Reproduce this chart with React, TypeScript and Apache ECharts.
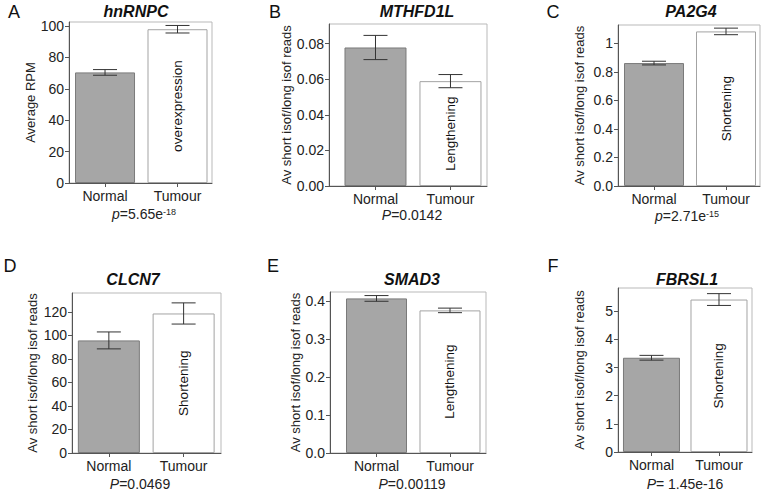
import React, { useEffect, useRef } from 'react';
import * as echarts from 'echarts';

// ---------- data ----------
const categories = ['Normal', 'Tumour'];
const genes = ['hnRNPC', 'MTHFD1L', 'PA2G4', 'CLCN7', 'SMAD3', 'FBRSL1'];
const panelLetters = ['A', 'B', 'C', 'D', 'E', 'F'];
const changeLabels = ['overexpression', 'Lengthening', 'Shortening', 'Shortening', 'Lengthening', 'Shortening'];
const yAxisNames = [
  'Average RPM',
  'Av short isof/long isof reads',
  'Av short isof/long isof reads',
  'Av short isof/long isof reads',
  'Av short isof/long isof reads',
  'Av short isof/long isof reads',
];
const pSymbols = ['p', 'P', 'p', 'P', 'P', 'P'];
const pMain = ['=5.65e', '=0.0142', '=2.71e', '=0.0469', '=0.00119', '= 1.45e-16'];
const pExp = ['-18', '', '-15', '', '', ''];

const hnRNPCMean = [70.4, 97.9];
const hnRNPCErr = [1.8, 2.4];
const MTHFD1LMean = [0.0778, 0.0589];
const MTHFD1LErr = [0.0068, 0.0037];
const PA2G4Mean = [0.862, 1.084];
const PA2G4Err = [0.013, 0.023];
const CLCN7Mean = [95.7, 118.6];
const CLCN7Err = [7.2, 9.0];
const SMAD3Mean = [0.4068, 0.3753];
const SMAD3Err = [0.0075, 0.006];
const FBRSL1Mean = [3.35, 5.42];
const FBRSL1Err = [0.085, 0.21];

const hnRNPCTicks = [0, 20, 40, 60, 80, 100];
const hnRNPCTickLabels = ['0', '20', '40', '60', '80', '100'];
const MTHFD1LTicks = [0, 0.02, 0.04, 0.06, 0.08];
const MTHFD1LTickLabels = ['0.00', '0.02', '0.04', '0.06', '0.08'];
const PA2G4Ticks = [0, 0.2, 0.4, 0.6, 0.8, 1];
const PA2G4TickLabels = ['0.0', '0.2', '0.4', '0.6', '0.8', '1'];
const CLCN7Ticks = [0, 20, 40, 60, 80, 100, 120];
const CLCN7TickLabels = ['0', '20', '40', '60', '80', '100', '120'];
const SMAD3Ticks = [0, 0.1, 0.2, 0.3, 0.4];
const SMAD3TickLabels = ['0.0', '0.1', '0.2', '0.3', '0.4'];
const FBRSL1Ticks = [0, 1, 2, 3, 4, 5];
const FBRSL1TickLabels = ['0', '1', '2', '3', '4', '5'];

const yMaxes = [102.5, 0.091, 1.129, 136, 0.4237, 5.83];

const means = [hnRNPCMean, MTHFD1LMean, PA2G4Mean, CLCN7Mean, SMAD3Mean, FBRSL1Mean];
const errs = [hnRNPCErr, MTHFD1LErr, PA2G4Err, CLCN7Err, SMAD3Err, FBRSL1Err];
const ticks = [hnRNPCTicks, MTHFD1LTicks, PA2G4Ticks, CLCN7Ticks, SMAD3Ticks, FBRSL1Ticks];
const tickLabels = [hnRNPCTickLabels, MTHFD1LTickLabels, PA2G4TickLabels, CLCN7TickLabels, SMAD3TickLabels, FBRSL1TickLabels];

// ---------- layout ----------
const layout = [
  { grid: { left: 69, top: 22, width: 143, height: 161 }, xMin: -0.497, xMax: 1.476, nameGap: 31, barWidth: 60, title: [136, 11], letter: [14, 12], p: [144, 214] },
  { grid: { left: 329, top: 24, width: 158, height: 162 }, xMin: -0.62, xMax: 1.487, nameGap: 27, barWidth: 62, title: [417, 11], letter: [275, 12], p: [412, 215] },
  { grid: { left: 618, top: 25, width: 142, height: 161 }, xMin: -0.5, xMax: 1.472, nameGap: 32, barWidth: 60, title: [691, 11], letter: [553, 12], p: [687, 216] },
  { grid: { left: 72, top: 293, width: 149, height: 160 }, xMin: -0.493, xMax: 1.5, nameGap: 33, barWidth: 62, title: [133, 279], letter: [10, 266], p: [140, 484] },
  { grid: { left: 330, top: 292, width: 156, height: 161 }, xMin: -0.633, xMax: 1.49, nameGap: 28, barWidth: 61, title: [412, 279], letter: [273, 266], p: [412, 484] },
  { grid: { left: 618, top: 288, width: 134, height: 164 }, xMin: -0.496, xMax: 1.489, nameGap: 32, barWidth: 57, title: [687, 279], letter: [553, 266], p: [685, 484] },
];

const FONT = 'Liberation Sans, Arial, sans-serif';

function buildOption() {
  const grids: any[] = [];
  const xAxes: any[] = [];
  const yAxes: any[] = [];
  const series: any[] = [];
  const graphics: any[] = [];

  genes.forEach((gene, i) => {
    const L = layout[i];
    grids.push({ ...L.grid, show: true, borderColor: '#b9b9b9', borderWidth: 1, backgroundColor: 'transparent', containLabel: false });
    xAxes.push({
      type: 'value', gridIndex: i, min: L.xMin, max: L.xMax,
      axisLine: { show: true, onZero: false, lineStyle: { color: '#555', width: 1 } },
      axisTick: { show: true, length: 4, customValues: [0, 1], lineStyle: { color: '#555' } },
      axisLabel: {
        show: true, customValues: [0, 1], margin: 6, fontSize: 14, lineHeight: 14, color: '#222', fontFamily: FONT,
        formatter: (v: number) => categories[Math.round(v)] ?? '',
      },
      splitLine: { show: false },
    });
    const tv = ticks[i];
    const tl = tickLabels[i];
    yAxes.push({
      type: 'value', gridIndex: i, min: 0, max: yMaxes[i],
      name: yAxisNames[i], nameLocation: 'middle', nameRotate: 90, nameGap: L.nameGap,
      nameTextStyle: { fontSize: 13, color: '#222', fontFamily: FONT },
      axisLine: { show: true, onZero: false, lineStyle: { color: '#555', width: 1 } },
      axisTick: { show: true, length: 4, customValues: tv, lineStyle: { color: '#555' } },
      axisLabel: {
        show: true, customValues: tv, margin: 5, fontSize: 14, color: '#222', fontFamily: FONT,
        formatter: (v: number) => {
          const k = tv.findIndex((t) => Math.abs(t - v) < 1e-9);
          return k >= 0 ? tl[k] : '';
        },
      },
      splitLine: { show: false },
    });
    const m = means[i];
    const e = errs[i];
    series.push({
      type: 'bar', xAxisIndex: i, yAxisIndex: i, barWidth: L.barWidth, z: 2,
      data: [
        { value: [0, m[0]], itemStyle: { color: '#a6a6a6', borderColor: '#7a7a7a', borderWidth: 1 } },
        {
          value: [1, m[1]], itemStyle: { color: '#ffffff', borderColor: '#a3a3a3', borderWidth: 1 },
          label: { show: true, position: 'inside', rotate: 90, formatter: changeLabels[i], fontSize: 13.5, color: '#111', fontFamily: FONT },
        },
      ],
    });
    series.push({
      type: 'custom', xAxisIndex: i, yAxisIndex: i, z: 4,
      encode: { x: 0, y: [1, 2] },
      data: [0, 1].map((k) => [k, m[k] - e[k], m[k] + e[k]]),
      renderItem: (params: any, api: any) => {
        const x = api.value(0);
        const lo = api.coord([x, api.value(1)]);
        const hi = api.coord([x, api.value(2)]);
        const hw = 12;
        const style = { stroke: '#333', lineWidth: 1 };
        return {
          type: 'group',
          children: [
            { type: 'line', shape: { x1: lo[0], y1: lo[1], x2: hi[0], y2: hi[1] }, style },
            { type: 'line', shape: { x1: lo[0] - hw, y1: lo[1], x2: lo[0] + hw, y2: lo[1] }, style },
            { type: 'line', shape: { x1: hi[0] - hw, y1: hi[1], x2: hi[0] + hw, y2: hi[1] }, style },
          ],
        };
      },
    });

    graphics.push({
      type: 'text', x: L.title[0], y: L.title[1],
      style: { text: gene, fontSize: 16, fontWeight: 'bold', fontStyle: 'italic', fontFamily: FONT, fill: '#111', align: 'center', verticalAlign: 'middle' },
    });
    graphics.push({
      type: 'text', x: L.letter[0], y: L.letter[1],
      style: { text: panelLetters[i], fontSize: 18, fontFamily: FONT, fill: '#111', align: 'center', verticalAlign: 'middle' },
    });
    const txt = '{i|' + pSymbols[i] + '}{b|' + pMain[i] + '}' + (pExp[i] ? '{s|' + pExp[i] + '}' : '');
    graphics.push({
      type: 'text', x: L.p[0], y: L.p[1],
      style: {
        text: txt, fontSize: 14, fontFamily: FONT, fill: '#222', align: 'center', verticalAlign: 'middle',
        rich: {
          i: { fontStyle: 'italic', fontSize: 14, fontFamily: FONT, fill: '#222', lineHeight: 14 },
          b: { fontSize: 14, fontFamily: FONT, fill: '#222', lineHeight: 14 },
          s: { fontSize: 9, fontFamily: FONT, fill: '#222', verticalAlign: 'top', lineHeight: 14, padding: [0, 0, 4, 0] },
        },
      },
    });
  });

  return {
    animation: false,
    backgroundColor: '#ffffff',
    textStyle: { fontFamily: FONT },
    grid: grids,
    xAxis: xAxes,
    yAxis: yAxes,
    series,
    graphic: graphics,
  };
}

export default function App() {
  const ref = useRef<HTMLDivElement>(null);
  useEffect(() => {
    if (!ref.current) return;
    const chart = echarts.init(ref.current, undefined, { renderer: 'svg' });
    chart.setOption(buildOption() as any);
    return () => chart.dispose();
  }, []);
  return <div ref={ref} style={{ position: 'absolute', left: 0, top: 0, width: 764, height: 493 }} />;
}
